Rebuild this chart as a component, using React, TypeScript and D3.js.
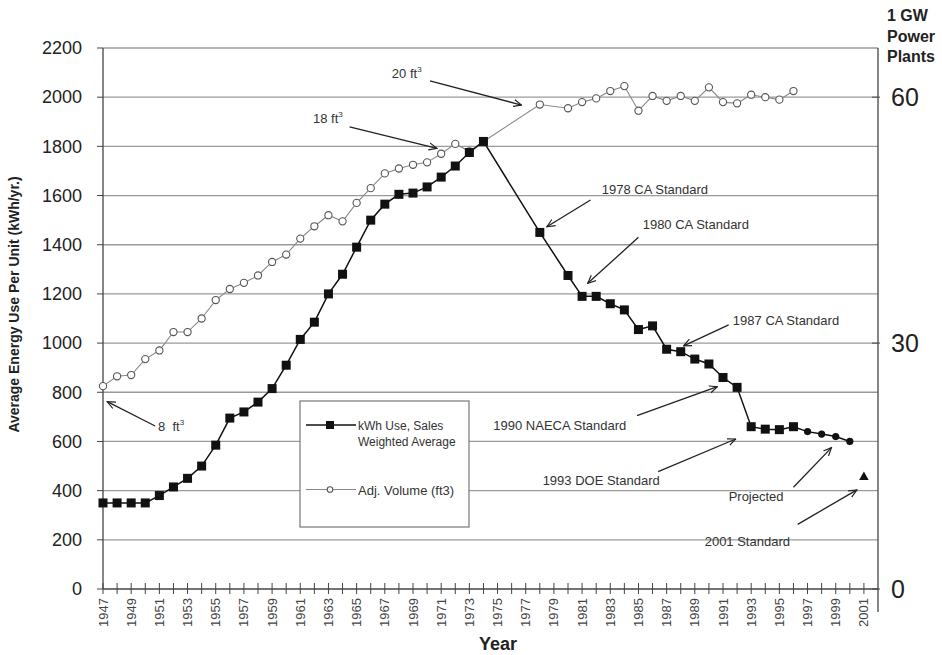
import React from "react";
import * as d3 from "d3";

// kWh use, sales weighted average
const kwhYears = [
  1947, 1948, 1949, 1950, 1951, 1952, 1953, 1954, 1955, 1956, 1957, 1958, 1959, 1960,
  1961, 1962, 1963, 1964, 1965, 1966, 1967, 1968, 1969, 1970, 1971, 1972, 1973, 1974,
  1978, 1980, 1981, 1982, 1983, 1984, 1985, 1986, 1987, 1988, 1989, 1990, 1991, 1992,
  1993, 1994, 1995, 1996,
];
const kwhValues = [
  350, 350, 350, 350, 380, 415, 450, 500, 585, 695, 720, 760, 815, 910,
  1015, 1085, 1200, 1280, 1390, 1500, 1565, 1605, 1610, 1635, 1675, 1720, 1775, 1820,
  1450, 1275, 1190, 1190, 1160, 1135, 1055, 1070, 975, 965, 935, 915, 860, 820,
  660, 650, 648, 660,
];

// projected values and the 2001 standard
const projYears = [1997, 1998, 1999, 2000];
const projValues = [640, 630, 620, 600];
const stdYears = [2001];
const stdValues = [455];

// adjusted volume, plotted on the left scale
const volYears = [
  1947, 1948, 1949, 1950, 1951, 1952, 1953, 1954, 1955, 1956, 1957, 1958, 1959, 1960,
  1961, 1962, 1963, 1964, 1965, 1966, 1967, 1968, 1969, 1970, 1971, 1972, 1973, 1974,
  1978, 1980, 1981, 1982, 1983, 1984, 1985, 1986, 1987, 1988, 1989, 1990, 1991, 1992,
  1993, 1994, 1995, 1996,
];
const volValues = [
  825, 865, 870, 935, 970, 1045, 1045, 1100, 1175, 1220, 1245, 1275, 1330, 1360,
  1425, 1475, 1520, 1495, 1570, 1630, 1690, 1710, 1725, 1735, 1770, 1810, 1780, 1820,
  1970, 1955, 1980, 1995, 2025, 2045, 1945, 2005, 1985, 2005, 1985, 2040, 1980, 1975,
  2010, 2000, 1990, 2025,
];

const leftTicks = [0, 200, 400, 600, 800, 1000, 1200, 1400, 1600, 1800, 2000, 2200];
const rightTicks = [0, 30, 60];
const yearLabels = d3.range(1947, 2002, 2);
const yearTicks = d3.range(1947, 2002, 1);

// annotations in data units: text anchor, arrow start -> arrow end
const notes = [
  { text: "20 ft", sup: "3", tx: 1967.5, ty: 2078, x1: 1970.2, y1: 2066, x2: 1976.7, y2: 1968 },
  { text: "18 ft", sup: "3", tx: 1961.9, ty: 1895, x1: 1964.5, y1: 1879, x2: 1970.7, y2: 1792 },
  { text: "8  ft", sup: "3", tx: 1950.9, ty: 643, x1: 1950.7, y1: 663, x2: 1947.3, y2: 762 },
  { text: "1978 CA Standard", tx: 1982.4, ty: 1606, x1: 1981.6, y1: 1582, x2: 1978.5, y2: 1473 },
  { text: "1980 CA Standard", tx: 1985.3, ty: 1464, x1: 1985.0, y1: 1430, x2: 1981.4, y2: 1243 },
  { text: "1987 CA Standard", tx: 1991.7, ty: 1074, x1: 1991.4, y1: 1074, x2: 1988.2, y2: 989 },
  { text: "1990 NAECA Standard", tx: 1974.7, ty: 647, x1: 1984.9, y1: 705, x2: 1990.6, y2: 823 },
  { text: "1993 DOE Standard", tx: 1978.2, ty: 423, x1: 1986.4, y1: 477, x2: 1991.9, y2: 610 },
  { text: "Projected", tx: 1991.4, ty: 358, x1: 1996.0, y1: 414, x2: 1998.7, y2: 575 },
  { text: "2001 Standard", tx: 1989.7, ty: 175, x1: 1996.3, y1: 263, x2: 2000.5, y2: 403 },
];

const FONT = "'Liberation Sans', Arial, sans-serif";

export default function App() {
  const W = 942;
  const H = 655;
  const x = d3.scaleLinear().domain([1947, 2002]).range([103, 878]);
  const y = d3.scaleLinear().domain([0, 2200]).range([589, 48]);
  const yR = d3.scaleLinear().domain([0, 66]).range([589, 48]);

  const line = d3
    .line<[number, number]>()
    .x((d) => x(d[0]))
    .y((d) => y(d[1]));

  const kwhPts: [number, number][] = kwhYears.map((yr, i) => [yr, kwhValues[i]]);
  const projPts: [number, number][] = projYears.map((yr, i) => [yr, projValues[i]]);
  const volPts: [number, number][] = volYears.map((yr, i) => [yr, volValues[i]]);
  const sq = 9;

  return (
    <svg
      width={W}
      height={H}
      style={{ position: "absolute", left: 0, top: 0, background: "#fff" }}
      fontFamily={FONT}
    >
      <defs>
        <marker id="arr" viewBox="0 -5 10 10" refX="9" refY="0" markerWidth="9" markerHeight="9" orient="auto" markerUnits="userSpaceOnUse">
          <path d="M0,-4L9,0L0,4" fill="none" stroke="#222" strokeWidth={1.3} />
        </marker>
      </defs>

      {/* gridlines */}
      {leftTicks.filter((t) => t > 0).map((t) => (
        <line key={t} x1={x(1947)} x2={x(2002)} y1={y(t)} y2={y(t)} stroke="#9a9a9a" strokeWidth={1.3} />
      ))}

      {/* left axis */}
      <line x1={103} x2={103} y1={y(2200)} y2={y(0)} stroke="#444" strokeWidth={1.3} />
      {leftTicks.map((t) => (
        <g key={t}>
          <line x1={97} x2={103} y1={y(t)} y2={y(t)} stroke="#444" />
          <text x={82} y={y(t)} dy="0.35em" textAnchor="end" fontSize={18} fill="#222">
            {t}
          </text>
        </g>
      ))}
      <text
        transform={`translate(19,${(y(2200) + y(0)) / 2 - 14}) rotate(-90)`}
        textAnchor="middle"
        fontSize={14}
        fontWeight="bold"
        fill="#222"
      >
        Average Energy Use Per Unit (kWh/yr.)
      </text>

      {/* right axis */}
      <line x1={878} x2={878} y1={y(2200)} y2={612} stroke="#444" strokeWidth={1.3} />
      {rightTicks.map((t) => (
        <g key={t}>
          <line x1={872} x2={880} y1={yR(t)} y2={yR(t)} stroke="#444" />
          <text x={891} y={yR(t)} dy="0.36em" fontSize={25} fill="#222">
            {t}
          </text>
        </g>
      ))}
      {["1 GW", "Power", "Plants"].map((s, i) => (
        <text key={s} x={887} y={21 + i * 20.5} fontSize={16} fontWeight="bold" fill="#222">
          {s}
        </text>
      ))}

      {/* x axis */}
      <line x1={103} x2={878} y1={589} y2={589} stroke="#444" strokeWidth={1.3} />
      {yearTicks.map((t) => (
        <line key={t} x1={x(t)} x2={x(t)} y1={583} y2={594} stroke="#444" />
      ))}
      {yearLabels.map((t) => (
        <text
          key={t}
          transform={`translate(${x(t)},598) rotate(-90)`}
          dy="0.35em"
          textAnchor="end"
          fontSize={13}
          fill="#444"
        >
          {t}
        </text>
      ))}
      <text x={498} y={650} textAnchor="middle" fontSize={18} fontWeight="bold" fill="#222">
        Year
      </text>

      {/* adjusted volume series */}
      <path d={line(volPts) || ""} fill="none" stroke="#888" strokeWidth={1.1} />
      {volPts.map((p) => (
        <circle key={p[0]} cx={x(p[0])} cy={y(p[1])} r={3.6} fill="#fff" stroke="#555" strokeWidth={1.1} />
      ))}

      {/* kWh series */}
      <path d={line([...kwhPts, ...projPts]) || ""} fill="none" stroke="#111" strokeWidth={1.5} />
      {kwhPts.map((p) => (
        <rect key={p[0]} x={x(p[0]) - sq / 2} y={y(p[1]) - sq / 2} width={sq} height={sq} fill="#111" />
      ))}
      {projPts.map((p) => (
        <circle key={p[0]} cx={x(p[0])} cy={y(p[1])} r={3.6} fill="#111" />
      ))}
      {stdYears.map((yr, i) => (
        <path
          key={yr}
          d={d3.symbol(d3.symbolTriangle, 40)() || ""}
          transform={`translate(${x(yr)},${y(stdValues[i])})`}
          fill="#111"
        />
      ))}

      {/* annotations */}
      {notes.map((n) => (
        <g key={n.text}>
          <line
            x1={x(n.x1)}
            y1={y(n.y1)}
            x2={x(n.x2)}
            y2={y(n.y2)}
            stroke="#222"
            strokeWidth={1.3}
            markerEnd="url(#arr)"
          />
          <text x={x(n.tx)} y={y(n.ty)} fontSize={13} fill="#333" xmlSpace="preserve">
            {n.text}
            {n.sup ? (
              <tspan fontSize={8} dy={-6}>
                {n.sup}
              </tspan>
            ) : null}
          </text>
        </g>
      ))}

      {/* legend */}
      <rect x={300} y={401} width={169} height={126} fill="#fff" stroke="#777" strokeWidth={1.2} />
      <line x1={306} x2={356} y1={425} y2={425} stroke="#111" strokeWidth={1.5} />
      <rect x={330 - 4} y={425 - 4} width={8} height={8} fill="#111" />
      <text x={358} y={430} fontSize={12} fill="#333">kWh Use, Sales</text>
      <text x={358} y={446} fontSize={12} fill="#333">Weighted Average</text>
      <line x1={306} x2={356} y1={489.5} y2={489.5} stroke="#888" strokeWidth={1.1} />
      <circle cx={330} cy={489.5} r={2.8} fill="#fff" stroke="#555" strokeWidth={1.1} />
      <text x={358} y={495} fontSize={13} fill="#333">Adj. Volume (ft3)</text>
    </svg>
  );
}
